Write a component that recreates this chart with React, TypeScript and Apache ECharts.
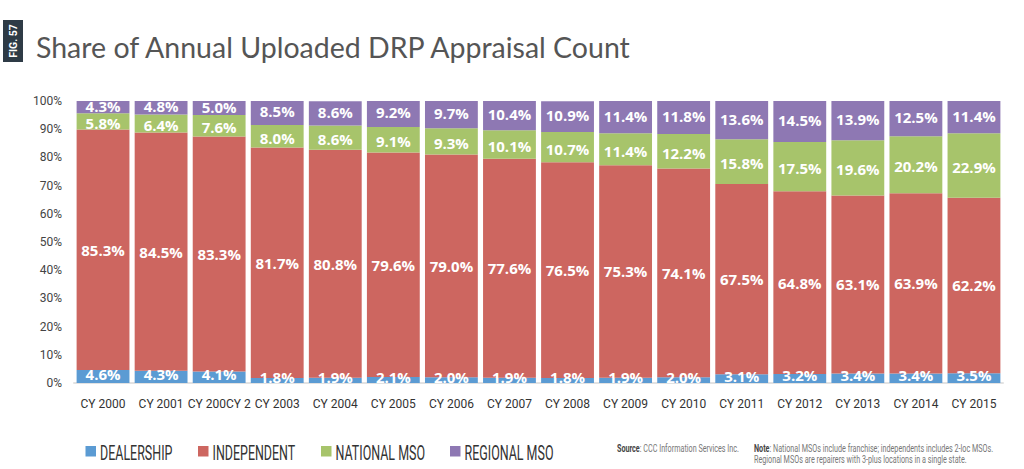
import React, { useEffect, useRef } from "react";
import * as echarts from "echarts";

const categories = ["CY 2000", "CY 2001", "CY 200CY 2", "CY 2003", "CY 2004", "CY 2005", "CY 2006", "CY 2007", "CY 2008", "CY 2009", "CY 2010", "CY 2011", "CY 2012", "CY 2013", "CY 2014", "CY 2015"];
const dealership = [4.6, 4.3, 4.1, 1.8, 1.9, 2.1, 2.0, 1.9, 1.8, 1.9, 2.0, 3.1, 3.2, 3.4, 3.4, 3.5];
const independent = [85.3, 84.5, 83.3, 81.7, 80.8, 79.6, 79.0, 77.6, 76.5, 75.3, 74.1, 67.5, 64.8, 63.1, 63.9, 62.2];
const nationalMso = [5.8, 6.4, 7.6, 8.0, 8.6, 9.1, 9.3, 10.1, 10.7, 11.4, 12.2, 15.8, 17.5, 19.6, 20.2, 22.9];
const regionalMso = [4.3, 4.8, 5.0, 8.5, 8.6, 9.2, 9.7, 10.4, 10.9, 11.4, 11.8, 13.6, 14.5, 13.9, 12.5, 11.4];
const seriesNames = ["DEALERSHIP", "INDEPENDENT", "NATIONAL MSO", "REGIONAL MSO"];
const colors = ["#5b9bd3", "#cd6660", "#a7c46b", "#8e78b3"];
const sourceText = "Source";
const sourceRest = ": CCC Information Services Inc.";
const noteText = "Note";
const noteLine1 = ": National MSOs include franchise; independents includes 2-loc MSOs.";
const noteLine2 = "Regional MSOs are repairers with 3-plus locations in a single state.";

const AXF = "Roboto, 'Open Sans', sans-serif";
const BOLD = "'Open Sans', 'Lato', sans-serif";

function measure(text: string, font: string): number {
  const c = document.createElement("canvas").getContext("2d");
  if (!c) return text.length * 8;
  c.font = font;
  return c.measureText(text).width;
}

export default function App() {
  const ref = useRef<HTMLDivElement>(null);
  useEffect(() => {
    if (!ref.current) return;
    const chart = echarts.init(ref.current, null, { renderer: "svg" });
    const dataSets = [dealership, independent, nationalMso, regionalMso];
    const offsets = [[0, -3], [0, 0], [0, 1.5], [0, -1.5]];
    const series = dataSets.map((d, i) => ({
      name: seriesNames[i],
      type: "bar",
      stack: "total",
      data: d,
      barCategoryGap: "9%",
      itemStyle: { color: colors[i] },
      label: {
        show: true,
        position: "inside",
        offset: offsets[i],
        formatter: (p: any) => p.value.toFixed(1) + "%",
        color: "#ffffff",
        fontFamily: BOLD,
        fontWeight: "bold",
        fontSize: 15,
        lineHeight: 13,
      },
    }));

    const legFont = `19.5px ${AXF}`;
    const legScale = 72.4 / measure("DEALERSHIP", legFont);
    const legSquareX = [85.5, 198, 321, 450];
    const legendEls: any[] = [];
    seriesNames.forEach((n, i) => {
      legendEls.push({ type: "rect", shape: { x: legSquareX[i], y: 446, width: 10.5, height: 10.5 }, style: { fill: colors[i] } });
      legendEls.push({
        type: "text",
        x: legSquareX[i] + 14.5,
        y: 453.5,
        scaleX: legScale,
        style: { text: n, font: legFont, fill: "#333", verticalAlign: "middle" },
      });
    });

    const fnFont = `10.5px ${AXF}`;
    const fnScale = 122 / (measure(sourceText, `bold ${fnFont}`) + measure(sourceRest, fnFont));

    chart.setOption({
      animation: false,
      backgroundColor: "#ffffff",
      grid: { left: 74, right: 21, top: 101, bottom: 86 },
      xAxis: {
        type: "category",
        data: categories,
        axisLine: { show: true, lineStyle: { color: "#e2e2e2", width: 2 } },
        axisTick: { show: false },
        axisLabel: { fontFamily: AXF, fontSize: 12, color: "#333", margin: 15, interval: 0 },
      },
      yAxis: {
        type: "value",
        min: 0,
        max: 100,
        interval: 10,
        axisLine: { show: false },
        axisTick: { show: false },
        splitLine: { show: false },
        axisLabel: { formatter: "{value}%", fontFamily: AXF, fontSize: 12, color: "#444", margin: 12 },
      },
      graphic: [
        { type: "rect", shape: { x: 3, y: 20, width: 20, height: 42 }, style: { fill: "#2e3b46" } },
        {
          type: "text",
          x: 13,
          y: 41,
          rotation: Math.PI / 2,
          style: { text: "FIG. 57", fill: "#ffffff", font: `bold 10.5px ${AXF}`, align: "center", verticalAlign: "middle" },
        },
        {
          type: "text",
          x: 36,
          y: 47,
          style: { text: "Share of Annual Uploaded DRP Appraisal Count", fill: "#555555", font: `28.5px Lato, 'Open Sans', sans-serif`, verticalAlign: "middle" },
        },
        ...legendEls,
        {
          type: "text",
          x: 617,
          y: 453.5,
          scaleX: fnScale,
          style: {
            text: `{b|${sourceText}}${sourceRest}`,
            rich: { b: { fontWeight: "bold", fontFamily: AXF, fontSize: 10.5, fill: "#444" } },
            font: fnFont,
            fill: "#777",
            verticalAlign: "bottom",
          },
        },
        {
          type: "text",
          x: 754,
          y: 453.5,
          scaleX: fnScale,
          style: {
            text: `{b|${noteText}}${noteLine1}`,
            rich: { b: { fontWeight: "bold", fontFamily: AXF, fontSize: 10.5, fill: "#444" } },
            font: fnFont,
            fill: "#777",
            verticalAlign: "bottom",
          },
        },
        {
          type: "text",
          x: 754,
          y: 465,
          scaleX: fnScale,
          style: { text: noteLine2, font: fnFont, fill: "#777", verticalAlign: "bottom" },
        },
      ],
      series,
    });
    return () => chart.dispose();
  }, []);
  return <div ref={ref} style={{ width: 1024, height: 469, position: "fixed", left: 0, top: 0 }} />;
}
